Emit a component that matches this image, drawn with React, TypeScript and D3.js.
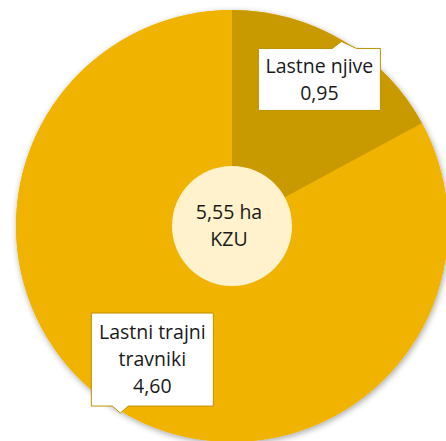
import React from 'react';
import * as d3 from 'd3';

const categories = ['Lastne njive', 'Lastni trajni travniki'];
const values = [0.95, 4.6];
const valueLabels = ['0,95', '4,60'];
const labelLines = [['Lastne njive'], ['Lastni trajni', 'travniki']];
const centerLines = ['5,55 ha', 'KZU'];

const COLORS = ['#C99900', '#F0B400'];
const WIDTH = 446;
const HEIGHT = 441;
const CX = 232;
const CY = 226;
const R = 216;
const HOLE_R = 60;
const FONT = "'Open Sans', 'Noto Sans', sans-serif";
const FONT_SIZE = 19.5;

// callout layout per slice: distance from center (fraction of R), box size, pointer side
const callouts = [
  { dist: 0.79, w: 122, h: 62, side: 'top', px: 83 },
  { dist: 0.72, w: 122, h: 93, side: 'bottom', px: 29 }
];

const App: React.FC = () => {
  const pie = d3.pie<number>().sort(null).value(d => d);
  const arcs = pie(values);
  const arc = d3.arc<d3.PieArcDatum<number>>().innerRadius(0).outerRadius(R);

  const lineH = 27;

  return (
    <svg width={WIDTH} height={HEIGHT} style={{ position: 'absolute', left: 0, top: 0 }}>
      <defs>
        <filter id="shadow" x="-10%" y="-10%" width="120%" height="120%">
          <feDropShadow dx="1" dy="2" stdDeviation="3" floodColor="#000" floodOpacity="0.35" />
        </filter>
      </defs>
      <g transform={`translate(${CX},${CY})`}>
        <g filter="url(#shadow)">
          <circle r={R} fill={COLORS[1]} />
        </g>
        {arcs.map((a, i) => (
          <path key={categories[i]} d={arc(a) || ''} fill={COLORS[i]} />
        ))}
        <circle r={HOLE_R} fill="#FFF2CC" />
        {centerLines.map((t, i) => (
          <text
            key={t}
            x={-3}
            y={(i - (centerLines.length - 1) / 2) * lineH}
            dy="0.35em"
            textAnchor="middle"
            fontFamily={FONT}
            fontSize={FONT_SIZE}
            fill="#1a1a1a"
          >
            {t}
          </text>
        ))}
        {arcs.map((a, i) => {
          const c = callouts[i];
          const mid = (a.startAngle + a.endAngle) / 2;
          const bx = Math.sin(mid) * R * c.dist;
          const by = -Math.cos(mid) * R * c.dist;
          const x0 = bx - c.w / 2;
          const y0 = by - c.h / 2;
          const x1 = x0 + c.w;
          const y1 = y0 + c.h;
          let d: string;
          if (c.side === 'top') {
            const p = x0 + c.px;
            d = `M${x0},${y0} L${p - 9},${y0} L${p},${y0 - 7} L${p + 15},${y0} L${x1},${y0} L${x1},${y1} L${x0},${y1} Z`;
          } else {
            const p = x0 + c.px;
            d = `M${x0},${y0} L${x1},${y0} L${x1},${y1} L${p + 8},${y1} L${p},${y1 + 7} L${p - 8},${y1} L${x0},${y1} Z`;
          }
          const lines = [...labelLines[i], valueLabels[i]];
          return (
            <g key={`lbl-${i}`}>
              <path d={d} fill="#fff" stroke="#BF9000" strokeWidth={1} />
              {lines.map((t, j) => (
                <text
                  key={j}
                  x={bx}
                  y={by + (j - (lines.length - 1) / 2) * lineH}
                  dy="0.35em"
                  textAnchor="middle"
                  fontFamily={FONT}
                  fontSize={FONT_SIZE}
                  fill="#1a1a1a"
                >
                  {t}
                </text>
              ))}
            </g>
          );
        })}
      </g>
    </svg>
  );
};

export default App;
